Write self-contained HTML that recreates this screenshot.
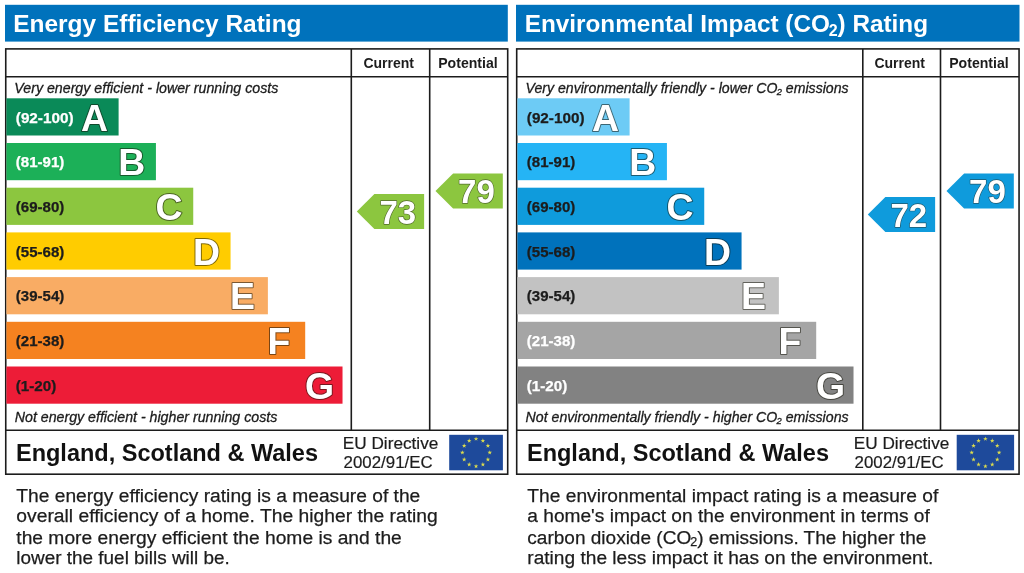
<!DOCTYPE html>
<html><head><meta charset="utf-8"><title>EPC</title>
<style>
html,body{margin:0;padding:0;background:#fff;}
body{width:1024px;height:573px;overflow:hidden;}
svg{display:block;}
text{font-family:"Liberation Sans",Arial,Helvetica,sans-serif;}
.b{font-weight:bold;}
.i{font-style:italic;stroke:#1c1c1c;stroke-width:0.3px;}
.e{stroke:#1c1c1c;stroke-width:0.2px;}
.p{stroke:#1c1c1c;stroke-width:0.25px;}
.lo{font-weight:bold;stroke:rgba(20,20,10,0.55);stroke-width:2.0px;stroke-linejoin:round;paint-order:stroke;}
.no{font-weight:bold;stroke:rgba(40,40,30,0.6);stroke-width:1.3px;stroke-linejoin:round;paint-order:stroke;}
</style></head><body>
<svg width="1024" height="573" viewBox="0 0 1024 573">
<rect width="1024" height="573" fill="#fff"/>
<rect x="5" y="4.8" width="502.8" height="36.8" fill="#0072bc"/>
<text x="13.20" y="32.20" class="b" font-size="24.3" fill="#fff" textLength="288.4" lengthAdjust="spacingAndGlyphs">Energy Efficiency Rating</text>
<rect x="5.75" y="48.9" width="501.95" height="425.3" fill="none" stroke="#1c1c1c" stroke-width="1.6"/>
<line x1="5.75" x2="507.7" y1="76.7" y2="76.7" stroke="#1c1c1c" stroke-width="1.6"/>
<line x1="5.75" x2="507.7" y1="430.2" y2="430.2" stroke="#1c1c1c" stroke-width="1.6"/>
<line x1="351.3" x2="351.3" y1="49" y2="430" stroke="#1c1c1c" stroke-width="1.6"/>
<line x1="429.7" x2="429.7" y1="49" y2="430" stroke="#1c1c1c" stroke-width="1.6"/>
<text x="363.40" y="67.90" class="b" font-size="14" fill="#1c1c1c" textLength="50.5" lengthAdjust="spacingAndGlyphs">Current</text>
<text x="438.20" y="67.90" class="b" font-size="14" fill="#1c1c1c" textLength="59.5" lengthAdjust="spacingAndGlyphs">Potential</text>
<text x="14.30" y="92.80" class="i" font-size="14.2" fill="#1c1c1c" textLength="264" lengthAdjust="spacingAndGlyphs">Very energy efficient - lower running costs</text>
<text x="14.80" y="422.20" class="i" font-size="14.2" fill="#1c1c1c" textLength="262.5" lengthAdjust="spacingAndGlyphs">Not energy efficient - higher running costs</text>
<rect x="6.4" y="98.30" width="112.20" height="37.2" fill="#0a8a58"/>
<text x="15.80" y="122.60" class="b" font-size="14.1" fill="#fff" textLength="57.7" lengthAdjust="spacingAndGlyphs" stroke="#fff" stroke-width="0.25">(92-100)</text>
<text x="81.04" y="130.60" class="lo" font-size="37.4" fill="#fff">A</text>
<rect x="6.4" y="143.00" width="149.52" height="37.2" fill="#1cb058"/>
<text x="15.80" y="167.30" class="b" font-size="14.1" fill="#fff" textLength="48.5" lengthAdjust="spacingAndGlyphs" stroke="#fff" stroke-width="0.25">(81-91)</text>
<text x="118.28" y="175.30" class="lo" font-size="37.4" fill="#fff">B</text>
<rect x="6.4" y="187.70" width="186.84" height="37.2" fill="#8cc63f"/>
<text x="15.80" y="212.00" class="b" font-size="14.1" fill="#1c1c1c" textLength="48.5" lengthAdjust="spacingAndGlyphs" stroke="#1c1c1c" stroke-width="0.25">(69-80)</text>
<text x="155.43" y="220.00" class="lo" font-size="37.4" fill="#fff">C</text>
<rect x="6.4" y="232.40" width="224.16" height="37.2" fill="#ffcc00"/>
<text x="15.80" y="256.70" class="b" font-size="14.1" fill="#1c1c1c" textLength="48.5" lengthAdjust="spacingAndGlyphs" stroke="#1c1c1c" stroke-width="0.25">(55-68)</text>
<text x="193.03" y="264.70" class="lo" font-size="37.4" fill="#fff">D</text>
<rect x="6.4" y="277.10" width="261.48" height="37.2" fill="#f9ac64"/>
<text x="15.80" y="301.40" class="b" font-size="14.1" fill="#1c1c1c" textLength="48.5" lengthAdjust="spacingAndGlyphs" stroke="#1c1c1c" stroke-width="0.25">(39-54)</text>
<text x="230.10" y="309.40" class="lo" font-size="37.4" fill="#fff">E</text>
<rect x="6.4" y="321.80" width="298.80" height="37.2" fill="#f58220"/>
<text x="15.80" y="346.10" class="b" font-size="14.1" fill="#1c1c1c" textLength="48.5" lengthAdjust="spacingAndGlyphs" stroke="#1c1c1c" stroke-width="0.25">(21-38)</text>
<text x="267.53" y="354.10" class="lo" font-size="37.4" fill="#fff">F</text>
<rect x="6.4" y="366.50" width="336.12" height="37.2" fill="#ed1c37"/>
<text x="15.80" y="390.80" class="b" font-size="14.1" fill="#1c1c1c" textLength="40.5" lengthAdjust="spacingAndGlyphs" stroke="#1c1c1c" stroke-width="0.25">(1-20)</text>
<text x="305.12" y="398.80" class="lo" font-size="37.4" fill="#fff">G</text>
<polygon points="356.80,211.4 374.40,193.9 424.10,193.9 424.10,228.9 374.40,228.9" fill="#8cc63f"/>
<text x="397.75" y="223.70" class="no" font-size="33" fill="#fff" text-anchor="middle">73</text>
<polygon points="435.50,190.9 453.10,173.4 502.80,173.4 502.80,208.4 453.10,208.4" fill="#8cc63f"/>
<text x="476.45" y="203.20" class="no" font-size="33" fill="#fff" text-anchor="middle">79</text>
<text x="16.00" y="461.00" class="b" font-size="23.5" fill="#111" textLength="302" lengthAdjust="spacingAndGlyphs">England, Scotland &amp; Wales</text>
<text x="342.80" y="448.80" class="e" font-size="16.8" fill="#1c1c1c" textLength="95.5" lengthAdjust="spacingAndGlyphs">EU Directive</text>
<text x="343.60" y="467.80" class="e" font-size="16.8" fill="#1c1c1c" textLength="89" lengthAdjust="spacingAndGlyphs">2002/91/EC</text>
<rect x="449.20" y="434.8" width="53.7" height="35.5" fill="#1e4a9b"/>
<polygon points="476.05,436.50 476.61,438.13 478.33,438.16 476.95,439.19 477.46,440.84 476.05,439.85 474.64,440.84 475.15,439.19 473.77,438.16 475.49,438.13" fill="#dcdc4e"/>
<polygon points="482.90,438.34 483.46,439.97 485.18,439.99 483.80,441.03 484.31,442.68 482.90,441.69 481.49,442.68 482.00,441.03 480.62,439.99 482.34,439.97" fill="#dcdc4e"/>
<polygon points="487.91,443.35 488.47,444.98 490.20,445.01 488.82,446.04 489.33,447.69 487.91,446.70 486.50,447.69 487.01,446.04 485.63,445.01 487.36,444.98" fill="#dcdc4e"/>
<polygon points="489.75,450.20 490.31,451.83 492.03,451.86 490.65,452.89 491.16,454.54 489.75,453.55 488.34,454.54 488.85,452.89 487.47,451.86 489.19,451.83" fill="#dcdc4e"/>
<polygon points="487.91,457.05 488.47,458.68 490.20,458.71 488.82,459.74 489.33,461.39 487.91,460.40 486.50,461.39 487.01,459.74 485.63,458.71 487.36,458.68" fill="#dcdc4e"/>
<polygon points="482.90,462.06 483.46,463.70 485.18,463.72 483.80,464.76 484.31,466.41 482.90,465.41 481.49,466.41 482.00,464.76 480.62,463.72 482.34,463.70" fill="#dcdc4e"/>
<polygon points="476.05,463.90 476.61,465.53 478.33,465.56 476.95,466.59 477.46,468.24 476.05,467.25 474.64,468.24 475.15,466.59 473.77,465.56 475.49,465.53" fill="#dcdc4e"/>
<polygon points="469.20,462.06 469.76,463.70 471.48,463.72 470.10,464.76 470.61,466.41 469.20,465.41 467.79,466.41 468.30,464.76 466.92,463.72 468.64,463.70" fill="#dcdc4e"/>
<polygon points="464.19,457.05 464.74,458.68 466.47,458.71 465.09,459.74 465.60,461.39 464.19,460.40 462.77,461.39 463.28,459.74 461.90,458.71 463.63,458.68" fill="#dcdc4e"/>
<polygon points="462.35,450.20 462.91,451.83 464.63,451.86 463.25,452.89 463.76,454.54 462.35,453.55 460.94,454.54 461.45,452.89 460.07,451.86 461.79,451.83" fill="#dcdc4e"/>
<polygon points="464.19,443.35 464.74,444.98 466.47,445.01 465.09,446.04 465.60,447.69 464.19,446.70 462.77,447.69 463.28,446.04 461.90,445.01 463.63,444.98" fill="#dcdc4e"/>
<polygon points="469.20,438.34 469.76,439.97 471.48,439.99 470.10,441.03 470.61,442.68 469.20,441.69 467.79,442.68 468.30,441.03 466.92,439.99 468.64,439.97" fill="#dcdc4e"/>
<text x="16.30" y="502.00" class="p" font-size="19.2" fill="#1c1c1c" textLength="404" lengthAdjust="spacingAndGlyphs">The energy efficiency rating is a measure of the</text>
<text x="16.30" y="522.40" class="p" font-size="19.2" fill="#1c1c1c" textLength="421.5" lengthAdjust="spacingAndGlyphs">overall efficiency of a home. The higher the rating</text>
<text x="16.30" y="543.50" class="p" font-size="19.2" fill="#1c1c1c" textLength="385.5" lengthAdjust="spacingAndGlyphs">the more energy efficient the home is and the</text>
<text x="16.30" y="564.20" class="p" font-size="19.2" fill="#1c1c1c" textLength="213.5" lengthAdjust="spacingAndGlyphs">lower the fuel bills will be.</text>
<rect x="516.0" y="4.8" width="503.5" height="36.8" fill="#0072bc"/>
<text x="524.70" y="32.20" class="b" font-size="24.3" fill="#fff" textLength="403.3" lengthAdjust="spacingAndGlyphs">Environmental Impact (CO<tspan font-size="16.04" dy="3.40" dx="-1.22">2</tspan><tspan dy="-3.40">)</tspan> Rating</text>
<rect x="516.7" y="48.9" width="502.35" height="425.3" fill="none" stroke="#1c1c1c" stroke-width="1.6"/>
<line x1="516.7" x2="1019.05" y1="76.7" y2="76.7" stroke="#1c1c1c" stroke-width="1.6"/>
<line x1="516.7" x2="1019.05" y1="430.2" y2="430.2" stroke="#1c1c1c" stroke-width="1.6"/>
<line x1="862.8" x2="862.8" y1="49" y2="430" stroke="#1c1c1c" stroke-width="1.6"/>
<line x1="940.5" x2="940.5" y1="49" y2="430" stroke="#1c1c1c" stroke-width="1.6"/>
<text x="874.40" y="67.90" class="b" font-size="14" fill="#1c1c1c" textLength="50.5" lengthAdjust="spacingAndGlyphs">Current</text>
<text x="949.20" y="67.90" class="b" font-size="14" fill="#1c1c1c" textLength="59.5" lengthAdjust="spacingAndGlyphs">Potential</text>
<text x="525.60" y="92.80" class="i" font-size="14.2" fill="#1c1c1c" textLength="323" lengthAdjust="spacingAndGlyphs">Very environmentally friendly - lower CO<tspan font-size="9.37" dy="1.99" dx="-0.71">2</tspan><tspan dy="-1.99"> emissions</tspan></text>
<text x="525.60" y="422.20" class="i" font-size="14.2" fill="#1c1c1c" textLength="323" lengthAdjust="spacingAndGlyphs">Not environmentally friendly - higher CO<tspan font-size="9.37" dy="1.99" dx="-0.71">2</tspan><tspan dy="-1.99"> emissions</tspan></text>
<rect x="517.4" y="98.30" width="112.20" height="37.2" fill="#6dcbf5"/>
<text x="526.80" y="122.60" class="b" font-size="14.1" fill="#1c1c1c" textLength="57.7" lengthAdjust="spacingAndGlyphs" stroke="#1c1c1c" stroke-width="0.25">(92-100)</text>
<text x="592.04" y="130.60" class="lo" font-size="37.4" fill="#fff">A</text>
<rect x="517.4" y="143.00" width="149.52" height="37.2" fill="#25b4f5"/>
<text x="526.80" y="167.30" class="b" font-size="14.1" fill="#1c1c1c" textLength="48.5" lengthAdjust="spacingAndGlyphs" stroke="#1c1c1c" stroke-width="0.25">(81-91)</text>
<text x="629.28" y="175.30" class="lo" font-size="37.4" fill="#fff">B</text>
<rect x="517.4" y="187.70" width="186.84" height="37.2" fill="#0f9bdc"/>
<text x="526.80" y="212.00" class="b" font-size="14.1" fill="#1c1c1c" textLength="48.5" lengthAdjust="spacingAndGlyphs" stroke="#1c1c1c" stroke-width="0.25">(69-80)</text>
<text x="666.43" y="220.00" class="lo" font-size="37.4" fill="#fff">C</text>
<rect x="517.4" y="232.40" width="224.16" height="37.2" fill="#0072bc"/>
<text x="526.80" y="256.70" class="b" font-size="14.1" fill="#1c1c1c" textLength="48.5" lengthAdjust="spacingAndGlyphs" stroke="#1c1c1c" stroke-width="0.25">(55-68)</text>
<text x="704.03" y="264.70" class="lo" font-size="37.4" fill="#fff">D</text>
<rect x="517.4" y="277.10" width="261.48" height="37.2" fill="#c2c2c2"/>
<text x="526.80" y="301.40" class="b" font-size="14.1" fill="#1c1c1c" textLength="48.5" lengthAdjust="spacingAndGlyphs" stroke="#1c1c1c" stroke-width="0.25">(39-54)</text>
<text x="741.10" y="309.40" class="lo" font-size="37.4" fill="#fff">E</text>
<rect x="517.4" y="321.80" width="298.80" height="37.2" fill="#a5a5a5"/>
<text x="526.80" y="346.10" class="b" font-size="14.1" fill="#fff" textLength="48.5" lengthAdjust="spacingAndGlyphs" stroke="#fff" stroke-width="0.25">(21-38)</text>
<text x="778.53" y="354.10" class="lo" font-size="37.4" fill="#fff">F</text>
<rect x="517.4" y="366.50" width="336.12" height="37.2" fill="#828282"/>
<text x="526.80" y="390.80" class="b" font-size="14.1" fill="#fff" textLength="40.5" lengthAdjust="spacingAndGlyphs" stroke="#fff" stroke-width="0.25">(1-20)</text>
<text x="816.12" y="398.80" class="lo" font-size="37.4" fill="#fff">G</text>
<polygon points="867.80,214.6 885.40,197.1 935.10,197.1 935.10,232.1 885.40,232.1" fill="#0f9bdc"/>
<text x="908.75" y="226.90" class="no" font-size="33" fill="#fff" text-anchor="middle">72</text>
<polygon points="946.50,191.0 964.10,173.5 1013.80,173.5 1013.80,208.5 964.10,208.5" fill="#0f9bdc"/>
<text x="987.45" y="203.30" class="no" font-size="33" fill="#fff" text-anchor="middle">79</text>
<text x="527.00" y="461.00" class="b" font-size="23.5" fill="#111" textLength="302" lengthAdjust="spacingAndGlyphs">England, Scotland &amp; Wales</text>
<text x="853.80" y="448.80" class="e" font-size="16.8" fill="#1c1c1c" textLength="95.5" lengthAdjust="spacingAndGlyphs">EU Directive</text>
<text x="854.60" y="467.80" class="e" font-size="16.8" fill="#1c1c1c" textLength="89" lengthAdjust="spacingAndGlyphs">2002/91/EC</text>
<rect x="956.70" y="434.8" width="57.4" height="35.5" fill="#1e4a9b"/>
<polygon points="985.40,436.50 985.96,438.13 987.68,438.16 986.30,439.19 986.81,440.84 985.40,439.85 983.99,440.84 984.50,439.19 983.12,438.16 984.84,438.13" fill="#dcdc4e"/>
<polygon points="992.25,438.34 992.81,439.97 994.53,439.99 993.15,441.03 993.66,442.68 992.25,441.69 990.84,442.68 991.35,441.03 989.97,439.99 991.69,439.97" fill="#dcdc4e"/>
<polygon points="997.26,443.35 997.82,444.98 999.55,445.01 998.17,446.04 998.68,447.69 997.26,446.70 995.85,447.69 996.36,446.04 994.98,445.01 996.71,444.98" fill="#dcdc4e"/>
<polygon points="999.10,450.20 999.66,451.83 1001.38,451.86 1000.00,452.89 1000.51,454.54 999.10,453.55 997.69,454.54 998.20,452.89 996.82,451.86 998.54,451.83" fill="#dcdc4e"/>
<polygon points="997.26,457.05 997.82,458.68 999.55,458.71 998.17,459.74 998.68,461.39 997.26,460.40 995.85,461.39 996.36,459.74 994.98,458.71 996.71,458.68" fill="#dcdc4e"/>
<polygon points="992.25,462.06 992.81,463.70 994.53,463.72 993.15,464.76 993.66,466.41 992.25,465.41 990.84,466.41 991.35,464.76 989.97,463.72 991.69,463.70" fill="#dcdc4e"/>
<polygon points="985.40,463.90 985.96,465.53 987.68,465.56 986.30,466.59 986.81,468.24 985.40,467.25 983.99,468.24 984.50,466.59 983.12,465.56 984.84,465.53" fill="#dcdc4e"/>
<polygon points="978.55,462.06 979.11,463.70 980.83,463.72 979.45,464.76 979.96,466.41 978.55,465.41 977.14,466.41 977.65,464.76 976.27,463.72 977.99,463.70" fill="#dcdc4e"/>
<polygon points="973.54,457.05 974.09,458.68 975.82,458.71 974.44,459.74 974.95,461.39 973.54,460.40 972.12,461.39 972.63,459.74 971.25,458.71 972.98,458.68" fill="#dcdc4e"/>
<polygon points="971.70,450.20 972.26,451.83 973.98,451.86 972.60,452.89 973.11,454.54 971.70,453.55 970.29,454.54 970.80,452.89 969.42,451.86 971.14,451.83" fill="#dcdc4e"/>
<polygon points="973.54,443.35 974.09,444.98 975.82,445.01 974.44,446.04 974.95,447.69 973.54,446.70 972.12,447.69 972.63,446.04 971.25,445.01 972.98,444.98" fill="#dcdc4e"/>
<polygon points="978.55,438.34 979.11,439.97 980.83,439.99 979.45,441.03 979.96,442.68 978.55,441.69 977.14,442.68 977.65,441.03 976.27,439.99 977.99,439.97" fill="#dcdc4e"/>
<text x="527.30" y="502.00" class="p" font-size="19.2" fill="#1c1c1c" textLength="411" lengthAdjust="spacingAndGlyphs">The environmental impact rating is a measure of</text>
<text x="527.30" y="522.40" class="p" font-size="19.2" fill="#1c1c1c" textLength="402.5" lengthAdjust="spacingAndGlyphs">a home's impact on the environment in terms of</text>
<text x="527.30" y="543.50" class="p" font-size="19.2" fill="#1c1c1c" textLength="399" lengthAdjust="spacingAndGlyphs">carbon dioxide (CO<tspan font-size="12.67" dy="2.69" dx="-0.96">2</tspan><tspan dy="-2.69">)</tspan> emissions. The higher the</text>
<text x="527.30" y="564.20" class="p" font-size="19.2" fill="#1c1c1c" textLength="406" lengthAdjust="spacingAndGlyphs">rating the less impact it has on the environment.</text>
</svg>
</body></html>
